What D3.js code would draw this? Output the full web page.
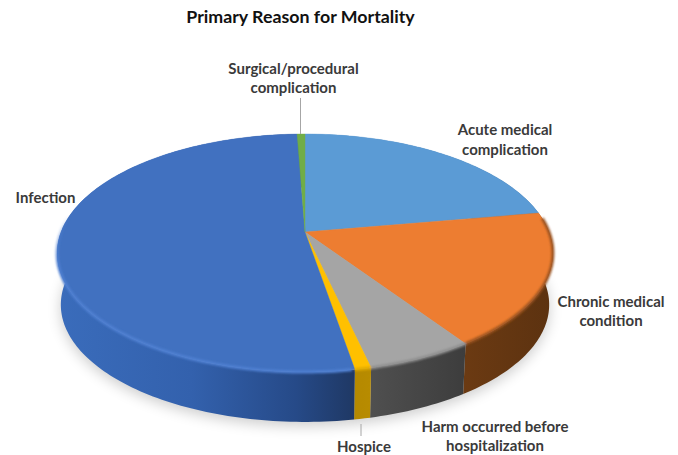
<!DOCTYPE html>
<html>
<head>
<meta charset="utf-8">
<script src="https://cdn.jsdelivr.net/npm/d3@7"></script>
<style>
  html, body { margin: 0; background: #fff; }
  text { font-family: Lato, "Open Sans", sans-serif; font-weight: 700; }
</style>
</head>
<body>
<div id="chart"></div>
<script>
// slices, clockwise from twelve o'clock (percent of deaths)
var categories = ["Acute medical complication", "Chronic medical condition", "Harm occurred before hospitalization", "Hospice", "Infection", "Surgical/procedural complication"];
var shares = [22.3, 18.2, 5.9, 0.9, 52.1, 0.6];
var topColors = ["#5b9bd5", "#ed7d31", "#a5a5a5", "#ffc000", "#4171c0", "#70ad47"];

var svgWidth = 678;
var svgHeight = 455;

var svg = d3.select("#chart").append("svg")
  .attr("width", svgWidth)
  .attr("height", svgHeight);

var color = d3.scaleOrdinal().domain(categories).range(topColors);

// tilted disc: a circle seen in perspective, the near edge comes out larger
var apex = { x: 305, y: 232 };
var radiusX = 244, radiusY = 115.3, tilt = 0.1765;
var depth = 52, bottomScale = 0.985;

function rimPoint(angle, isBottom) {
  var u = Math.sin(angle), v = -Math.cos(angle);
  var w = 1 - tilt * v;
  var s = isBottom ? bottomScale : 1;
  return [
    apex.x + s * radiusX * u / w,
    apex.y + (isBottom ? depth : 0) + s * radiusY * v / w
  ];
}

function rimAngles(a0, a1) {
  var n = Math.max(2, Math.ceil((a1 - a0) / 0.02));
  return d3.range(n + 1).map(function(i) { return a0 + (a1 - a0) * i / n; });
}

var line = d3.line();

var pie = d3.pie().sort(null).value(function(d) { return d.share; });
var slices = pie(categories.map(function(c, i) { return { name: c, share: shares[i] }; }));

var defs = svg.append("defs");

defs.append("filter").attr("id", "soft").attr("x", "-20%").attr("y", "-20%").attr("width", "140%").attr("height", "140%")
  .append("feGaussianBlur").attr("stdDeviation", 7);
defs.append("filter").attr("id", "edge").attr("x", "-5%").attr("y", "-5%").attr("width", "110%").attr("height", "110%")
  .append("feGaussianBlur").attr("stdDeviation", 1.1);

// side wall shading runs left to right along each slice
function sideGradient(id, x1, x2, stops) {
  var g = defs.append("linearGradient").attr("id", id)
    .attr("gradientUnits", "userSpaceOnUse")
    .attr("x1", x1).attr("x2", x2).attr("y1", 0).attr("y2", 0);
  stops.forEach(function(s) {
    g.append("stop").attr("offset", s[0]).attr("stop-color", s[1]);
  });
}
sideGradient("side0", 300, 555, [[0, "#5b9bd5"], [1, "#2e5f8c"]]);
sideGradient("side1", 465, 553, [[0, "#6b3a12"], [1, "#5c3210"]]);
sideGradient("side2", 372, 465, [[0, "#4f4f4f"], [1, "#3d3d3d"]]);
sideGradient("side3", 355, 372, [[0, "#b58900"], [1, "#b88c00"]]);
sideGradient("side4", 58, 355, [[0, "#3a6cbb"], [0.45, "#3361ad"], [0.8, "#264a88"], [1, "#1f3864"]]);
sideGradient("side5", 297, 305, [[0, "#4f7a33"], [1, "#4f7a33"]]);

// blue bevel fades out going up the left side
var bevelFade = defs.append("linearGradient").attr("id", "bevelFade")
  .attr("gradientUnits", "userSpaceOnUse")
  .attr("x1", 0).attr("x2", 0).attr("y1", 215).attr("y2", 265);
bevelFade.append("stop").attr("offset", 0).attr("stop-color", "#4f80d2").attr("stop-opacity", 0);
bevelFade.append("stop").attr("offset", 1).attr("stop-color", "#4f80d2").attr("stop-opacity", 1);

// drop shadow under the disc
var shadowPoints = rimAngles(0, 2 * Math.PI).map(function(a) {
  var p = rimPoint(a, true);
  return [p[0], p[1] + 4];
});
svg.append("path")
  .attr("d", line(shadowPoints) + "Z")
  .attr("fill", "#000")
  .attr("opacity", 0.2)
  .attr("filter", "url(#soft)");

// side walls first, the top face then hides the far half
svg.append("g").selectAll("path")
  .data(slices)
  .enter()
  .append("path")
  .attr("d", function(d) {
    var angles = rimAngles(d.startAngle, d.endAngle);
    var upper = angles.map(function(a) { return rimPoint(a, false); });
    var lower = angles.slice().reverse().map(function(a) { return rimPoint(a, true); });
    return line(upper.concat(lower)) + "Z";
  })
  .attr("fill", function(d, i) { return "url(#side" + i + ")"; });

// top face
svg.append("g").selectAll("path")
  .data(slices)
  .enter()
  .append("path")
  .attr("d", function(d) {
    var pts = rimAngles(d.startAngle, d.endAngle).map(function(a) { return rimPoint(a, false); });
    return line([[apex.x, apex.y]].concat(pts)) + "Z";
  })
  .attr("fill", function(d) { return color(d.data.name); })
  .attr("stroke", function(d) { return color(d.data.name); })
  .attr("stroke-width", 0.4);

// rounded bevel along the rim
var rimGroup = svg.append("g").attr("filter", "url(#edge)").attr("fill", "none").attr("stroke-width", 3);
rimGroup.append("path")
  .attr("d", line(rimAngles(slices[4].startAngle + 0.01, 4.85).map(function(a) { return rimPoint(a, false); })))
  .attr("stroke", "url(#bevelFade)");
rimGroup.append("path")
  .attr("d", line(rimAngles(1.45, slices[1].endAngle).map(function(a) { return rimPoint(a, false); })))
  .attr("stroke", "#9a5220");
rimGroup.append("path")
  .attr("d", line(rimAngles(slices[2].startAngle, slices[2].endAngle).map(function(a) { return rimPoint(a, false); })))
  .attr("stroke", "#8e8e8e");
rimGroup.append("path")
  .attr("d", line(rimAngles(slices[3].startAngle, slices[3].endAngle).map(function(a) { return rimPoint(a, false); })))
  .attr("stroke", "#e0aa00");

// leader lines for the two thin slices
var leaders = [[[300.5, 98], [300.5, 134]], [[361, 424], [361, 436]]];
svg.append("g").selectAll("path")
  .data(leaders)
  .enter()
  .append("path")
  .attr("d", function(d) { return line(d); })
  .attr("stroke", "#a6a6a6")
  .attr("stroke-width", 1)
  .attr("fill", "none");

// chart title
svg.append("text")
  .attr("x", 300.5)
  .attr("y", 23)
  .attr("text-anchor", "middle")
  .attr("font-size", "17.8px")
  .attr("fill", "#111")
  .text("Primary Reason for Mortality");

// slice labels, broken into lines the way the chart wraps them
var labelLines = [
  ["Surgical/procedural", 293.5, 74],
  ["complication", 293.5, 93],
  ["Acute medical", 505, 135],
  ["complication", 505, 155],
  ["Infection", 45.5, 203],
  ["Chronic medical", 611, 307],
  ["condition", 611, 326],
  ["Harm occurred before", 495, 432],
  ["hospitalization", 495, 451],
  ["Hospice", 364, 452]
];
svg.append("g").selectAll("text")
  .data(labelLines)
  .enter()
  .append("text")
  .attr("x", function(d) { return d[1]; })
  .attr("y", function(d) { return d[2]; })
  .attr("text-anchor", "middle")
  .attr("font-size", "15px")
  .attr("fill", "#3a3a3a")
  .text(function(d) { return d[0]; });
</script>
</body>
</html>
